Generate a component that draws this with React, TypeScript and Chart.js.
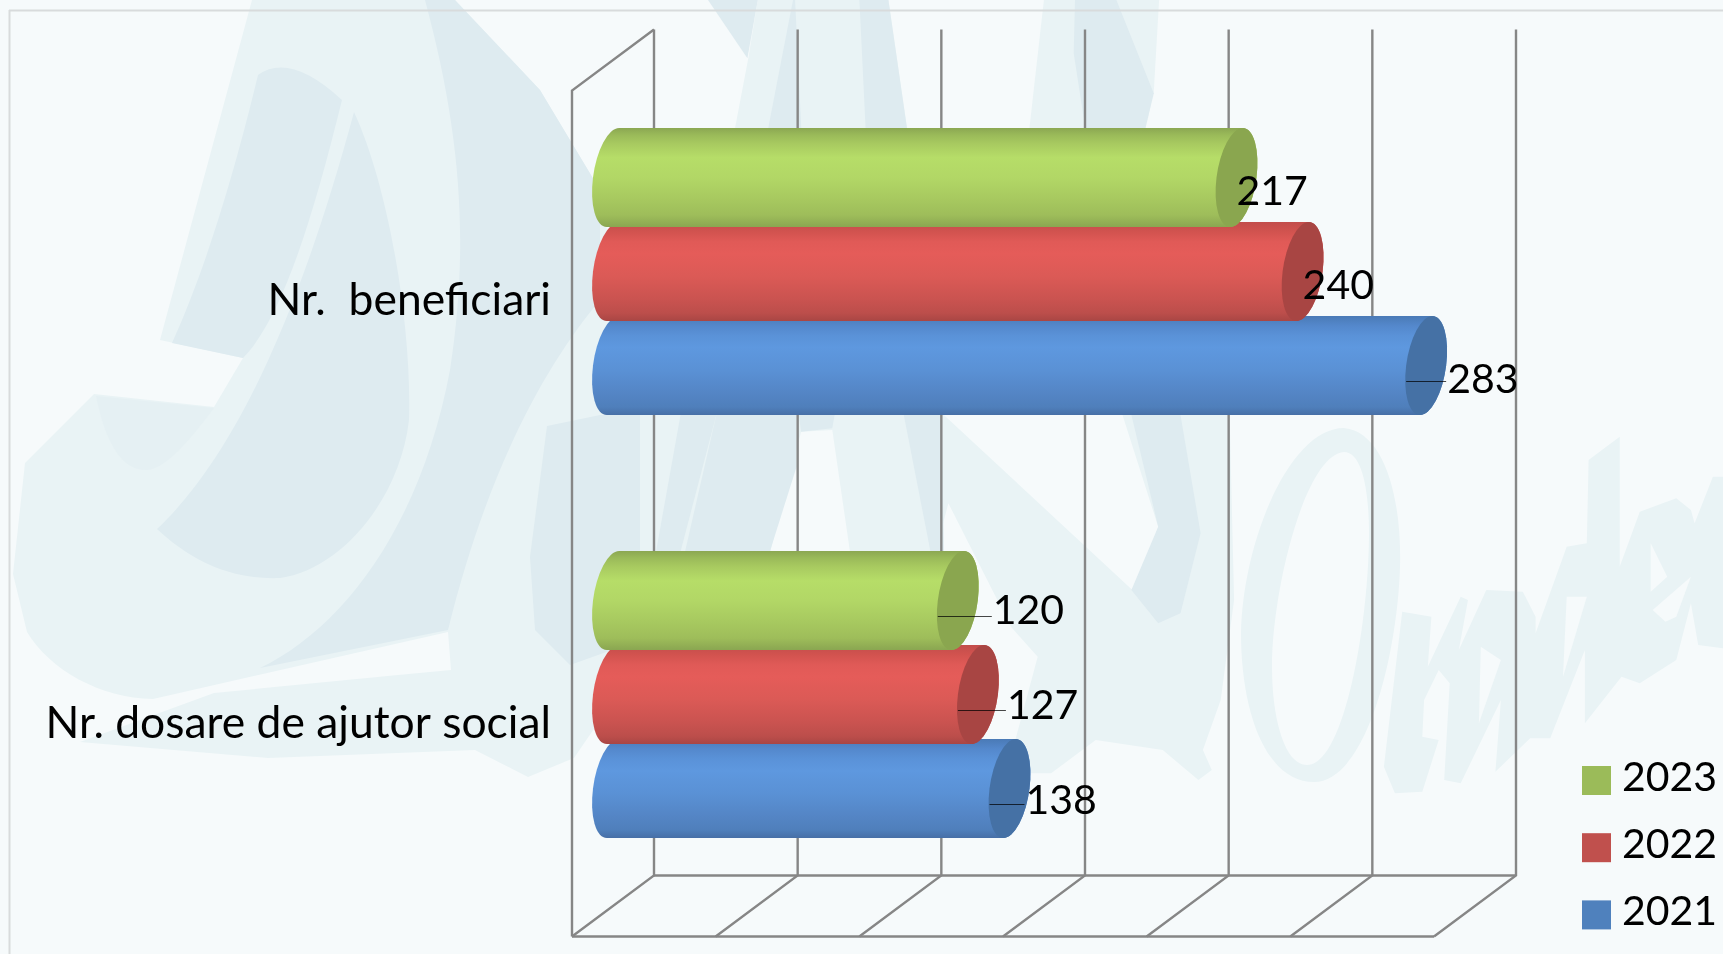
import React, { useEffect, useRef } from "react";
import { Chart, registerables, BarElement } from "chart.js";

Chart.register(...registerables);

const categories = ["Nr.  beneficiari", "Nr. dosare de ajutor social"];
const years = ["2023", "2022", "2021"];
const values2023 = [217, 120];
const values2022 = [240, 127];
const values2021 = [283, 138];
const colors = ["#9bbb59", "#c0504d", "#4f81bd"];
const labelShift = [[0, 35], [0, 29], [21, 16]];
const labelRise = [[0, 4], [0, 3], [0, 2]];
const FONT = "Lato";

const shades: Record<string, { stops: [number, string][]; cap: string }> = {
  "#9bbb59": {
    cap: "#8aa64f",
    stops: [[0, "#8ba752"], [0.07, "#9aba59"], [0.16, "#a8ca60"], [0.3, "#b6dd68"], [0.5, "#b2d766"], [0.7, "#a8ca60"], [0.88, "#9ebd5a"], [1, "#8aa651"]],
  },
  "#c0504d": {
    cap: "#a84543",
    stops: [[0, "#c24d4b"], [0.1, "#d2534f"], [0.2, "#e05a57"], [0.32, "#e55c59"], [0.55, "#db5a56"], [0.78, "#ca5350"], [0.92, "#bc4e4b"], [1, "#a94644"]],
  },
  "#4f81bd": {
    cap: "#4571a5",
    stops: [[0, "#4a7ab6"], [0.1, "#5488cc"], [0.2, "#5a92d8"], [0.32, "#5e98df"], [0.55, "#5a91d5"], [0.78, "#5485c5"], [0.92, "#4f7fbb"], [1, "#476fa6"]],
  },
};

class CylinderBar extends BarElement {
  static id = "cylinder";
  static defaults = BarElement.defaults;
  static defaultRoutes = BarElement.defaultRoutes;
  draw(ctx: CanvasRenderingContext2D) {
    const { x, y, base, height } = (this as any).getProps(["x", "y", "base", "height"]);
    const shade = shades[(this as any).options.backgroundColor] || shades["#4f81bd"];
    const rx = 20;
    const ry = height / 2;
    const skew = 0.125;
    ctx.save();
    ctx.transform(1, 0, -skew, 1, skew * y, 0);
    const g = ctx.createLinearGradient(0, y - ry, 0, y + ry);
    shade.stops.forEach(([o, c]) => g.addColorStop(o, c));
    ctx.beginPath();
    ctx.ellipse(base, y, rx, ry, 0, -Math.PI / 2, -Math.PI * 1.5, true);
    ctx.lineTo(x, y + ry);
    ctx.ellipse(x, y, rx, ry, 0, Math.PI / 2, -Math.PI / 2, true);
    ctx.closePath();
    ctx.fillStyle = g;
    ctx.fill();
    ctx.beginPath();
    ctx.ellipse(x, y, rx, ry, 0, 0, Math.PI * 2);
    ctx.fillStyle = shade.cap;
    ctx.fill();
    ctx.restore();
  }
}
Chart.register(CylinderBar as any);
(Chart.defaults as any).datasets.bar.dataElementType = "cylinder";

const DEPTH_X = 41;
const DEPTH_Y = 30.5;

const wallsPlugin = {
  id: "walls",
  beforeDatasetsDraw(chart: any) {
    const { ctx, chartArea: a, scales } = chart;
    const xs = scales.x;
    const top = a.top - DEPTH_Y;
    const backBottom = a.bottom - DEPTH_Y;
    const frontBottom = a.bottom + DEPTH_Y;
    const frontTop = a.top + DEPTH_Y;
    const x0 = xs.getPixelForValue(xs.min);
    const x1 = xs.getPixelForValue(xs.max);
    ctx.save();
    ctx.strokeStyle = "#868686";
    ctx.lineWidth = 2.4;
    ctx.lineJoin = "miter";
    const seg = (p: number[][]) => {
      ctx.beginPath();
      p.forEach(([px, py], i) => (i ? ctx.lineTo(px, py) : ctx.moveTo(px, py)));
      ctx.stroke();
    };
    xs.ticks.forEach((t: any) => {
      const px = xs.getPixelForValue(t.value);
      seg([[px + DEPTH_X, top], [px + DEPTH_X, backBottom], [px - DEPTH_X, frontBottom]]);
    });
    seg([[x0 + DEPTH_X, backBottom], [x1 + DEPTH_X, backBottom]]);
    seg([[x0 - DEPTH_X, frontBottom], [x1 - DEPTH_X, frontBottom]]);
    seg([[x0 + DEPTH_X, top], [x0 - DEPTH_X, frontTop], [x0 - DEPTH_X, frontBottom]]);
    ctx.restore();
  },
};

const labelsPlugin = {
  id: "valueLabels",
  afterDatasetsDraw(chart: any) {
    const { ctx } = chart;
    ctx.save();
    ctx.font = `41px ${FONT}`;
    ctx.textBaseline = "middle";
    ctx.textAlign = "left";
    chart.data.datasets.forEach((ds: any, i: number) => {
      chart.getDatasetMeta(i).data.forEach((el: any, j: number) => {
        const shift = labelShift[i][j];
        const ly = el.y + 14;
        if (shift > 0) {
          ctx.strokeStyle = "rgba(0,0,0,0.72)";
          ctx.lineWidth = 1;
          ctx.beginPath();
          ctx.moveTo(el.x - 20, Math.round(ly + 1.5) + 0.5);
          ctx.lineTo(el.x + shift - 1, Math.round(ly + 1.5) + 0.5);
          ctx.stroke();
        }
        ctx.fillStyle = "#000";
        ctx.fillText(String(ds.data[j]), el.x + shift, ly - labelRise[i][j]);
      });
    });
    ctx.restore();
  },
};

const legendPlugin = {
  id: "sideLegend",
  afterDraw(chart: any) {
    const { ctx } = chart;
    ctx.save();
    ctx.font = `41px ${FONT}`;
    ctx.textBaseline = "middle";
    chart.data.datasets.forEach((ds: any, i: number) => {
      const top = 766 + i * 67.2;
      ctx.fillStyle = ds.backgroundColor;
      ctx.fillRect(1582, top, 29, 29);
      ctx.fillStyle = "#000";
      ctx.fillText(ds.label, 1622, top + 11.5);
    });
    ctx.restore();
  },
};

type Pt = [number, number];
const poly = (pts: Pt[], ox = 0, oy = 0, sx = 1, sy = 1) =>
  "M" + pts.map(([x, y]) => `${(ox + x / sx).toFixed(1)},${(oy + y / sy).toFixed(1)}`).join("L") + "Z";

const LIGHT = "#e9f3f5";
const MID = "#e5f0f3";
const DARK = "#deebf0";
const BG = "#f6fafb";

const lightPaths = [
  "M252,0 L455,0 L540,90 L600,190 L640,420 L640,630 L600,720 L574,758 L528,777 L475,750 L268,758 L80,742 L214,693 L398,675 L451,670 L448,632 L153,699 C100,698 50,670 27,632 L13,574 L25,463 L94,394 L214,407 L243,358 L160,340 Z",
  poly([[260, 0], [575, 0], [620, 385], [205, 385], [237, 175]], 650, 0, 2.412, 3),
  poly([[950, 0], [1228, 0], [1215, 280], [1195, 385], [915, 385]], 650, 0, 2.412, 3),
  poly([[0, 45], [860, 45], [1290, 580], [1340, 380], [1260, 45], [1500, 45], [1510, 600], [1480, 900], [1440, 1050], [1460, 1110], [1430, 1140], [1350, 1050], [1200, 1020], [1100, 1120], [1000, 1120], [1070, 770], [1010, 680], [870, 310], [840, 460], [650, 460], [610, 90], [540, 95], [470, 460], [0, 460]], 560, 400, 2.24, 3),
  poly([[690, 635], [770, 650], [760, 800], [850, 590], [870, 600], [845, 750], [920, 570], [1020, 575], [1055, 650], [1055, 700], [1140, 440], [1195, 430], [1200, 180], [1285, 110], [1285, 500], [1340, 335], [1440, 295], [1480, 330], [1490, 370], [1540, 230], [1568, 230], [1568, 745], [1500, 735], [1480, 610], [1440, 780], [1340, 850], [1290, 830], [1190, 970], [1190, 750], [1095, 1015], [1040, 1015], [945, 1115], [960, 900], [850, 1150], [805, 1140], [820, 850], [790, 810], [750, 900], [745, 1010], [790, 1020], [745, 1175], [670, 1180], [640, 1100]], 1150, 400, 2.736, 3),
  "M1344,428 C1385,432 1402,500 1400,567 C1397,660 1365,782 1314,782 C1265,782 1241,710 1241,633 C1243,540 1290,428 1344,428 Z M1344,452 C1305,455 1272,590 1272,667 C1272,720 1285,765 1307,765 C1345,765 1369,620 1369,533 C1369,490 1362,452 1344,452 Z",
];

const cutPaths = [
  poly([[1140, 590], [1195, 590], [1130, 830]], 1150, 400, 2.736, 3),
  poly([[905, 740], [960, 780], [900, 970]], 1150, 400, 2.736, 3),
  poly([[1370, 430], [1415, 530], [1370, 575]], 1150, 400, 2.736, 3),
  poly([[1375, 630], [1480, 530], [1440, 650], [1410, 665]], 1150, 400, 2.736, 3),
];

const darkPaths = [
  "M258,75 Q290,52 342,100 C310,230 280,320 243,358 L172,343 C210,260 240,150 258,75 Z",
  "M354,112 C390,190 412,330 409,420 C400,500 340,570 280,578 C230,580 190,560 157,529 C220,470 290,350 354,112 Z",
  "M425,0 L455,0 L540,90 L600,190 L600,300 C550,360 490,460 448,630 L260,668 C340,630 420,530 450,370 C470,240 460,130 425,0 Z",
  "M547,426 L600,415 L640,415 L640,640 L570,665 L535,630 L530,557 Z",
  poly([[140, 0], [235, 175], [260, 0]], 650, 0, 2.412, 3),
  poly([[345, 0], [285, 385], [365, 385], [350, 0]], 650, 0, 2.412, 3),
  poly([[505, 0], [575, 0], [620, 385], [520, 385]], 650, 0, 2.412, 3),
  poly([[1025, 0], [1125, 0], [1215, 280], [1195, 385], [1050, 385], [1022, 160]], 650, 0, 2.412, 3),
  poly([[270, 45], [350, 45], [270, 455], [215, 455]], 560, 400, 2.24, 3),
  poly([[350, 45], [530, 45], [530, 200], [470, 455], [280, 455]], 560, 400, 2.24, 3),
  poly([[535, 45], [615, 45], [610, 85], [540, 95]], 560, 400, 2.24, 3),
  poly([[770, 45], [855, 45], [860, 455], [830, 455]], 560, 400, 2.24, 3),
  poly([[1280, 45], [1390, 45], [1435, 400], [1390, 640], [1340, 670], [1280, 570], [1340, 380]], 560, 400, 2.24, 3),
];

const midPaths = [
  "M96,396 L214,408 C190,440 165,470 146,470 C120,470 105,440 96,396 Z",
];

export default function App() {
  const ref = useRef<HTMLCanvasElement>(null);
  useEffect(() => {
    const chart = new Chart(ref.current as HTMLCanvasElement, {
      type: "bar",
      data: {
        labels: categories,
        datasets: [
          { label: years[0], data: values2023, backgroundColor: colors[0] },
          { label: years[1], data: values2022, backgroundColor: colors[1] },
          { label: years[2], data: values2021, backgroundColor: colors[2] },
        ],
      },
      options: {
        indexAxis: "y",
        animation: false,
        responsive: false,
        layout: { autoPadding: false, padding: { left: 0, top: 60, right: 248, bottom: 48 } },
        datasets: { bar: { categoryPercentage: 0.6667, barPercentage: 1.053, clip: false } },
        plugins: { legend: { display: false }, tooltip: { enabled: false } },
        scales: {
          x: { type: "linear", min: 0, max: 300, display: false, ticks: { stepSize: 50 } },
          y: {
            type: "category",
            grid: { display: false, drawTicks: false },
            border: { display: false },
            afterFit: (s: any) => {
              s.width = 613;
              s.paddingTop = 0;
              s.paddingBottom = 0;
            },
            ticks: {
              color: "#000",
              padding: 62,
              labelOffset: 29,
              autoSkip: false,
              maxRotation: 0,
              minRotation: 0,
              font: { family: FONT, size: 44.4 },
            },
          },
        },
      } as any,
      plugins: [wallsPlugin, labelsPlugin, legendPlugin],
    });
    return () => chart.destroy();
  }, []);
  return (
    <div style={{ position: "fixed", left: 0, top: 0, width: 1723, height: 954, overflow: "hidden", background: BG }}>
      <svg width={1723} height={954} style={{ position: "absolute", left: 0, top: 0 }}>
        {lightPaths.map((d, i) => (
          <path key={i} d={d} fill={LIGHT} fillRule="evenodd" />
        ))}
        {cutPaths.map((d, i) => (
          <path key={i} d={d} fill={BG} />
        ))}
        {midPaths.map((d, i) => (
          <path key={i} d={d} fill={MID} />
        ))}
        {darkPaths.map((d, i) => (
          <path key={i} d={d} fill={DARK} />
        ))}
        <rect x={9} y={9.5} width={1714} height={2} fill="#d8dbdc" />
        <rect x={8.5} y={10} width={2} height={944} fill="#d8dbdc" />
      </svg>
      <canvas ref={ref} width={1723} height={954} style={{ position: "absolute", left: 0, top: 0 }} />
    </div>
  );
}
